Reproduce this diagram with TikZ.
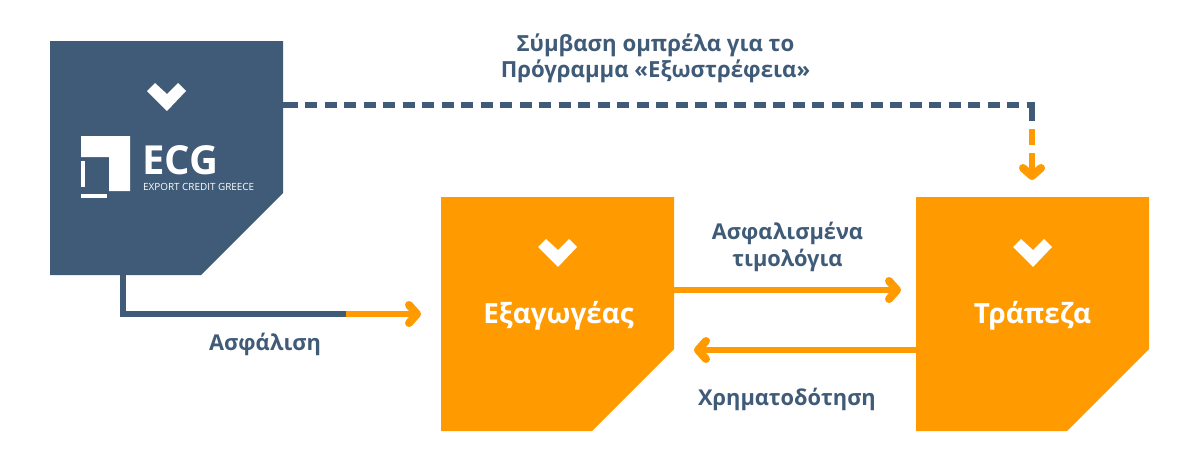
\documentclass[tikz,border=0pt]{standalone}
\usepackage{fontspec}
\setmainfont{Open Sans}
\newfontfamily\logofont{Open Sans}
\usetikzlibrary{arrows.meta}
\definecolor{navy}{HTML}{3F5B78}
\definecolor{amber}{HTML}{FF9B00}
\newcommand{\chev}[2]{\fill[white] (#1-12,#2-14) -- (#1,#2-3) -- (#1+11,#2-14) -- (#1+19,#2-6) -- (#1,#2+14) -- (#1-20,#2-6) -- cycle;}
\newcommand{\panelshape}[2]{\fill[#2] (#1.north west) -- (#1.north east) -- ([yshift=82pt]#1.south east) -- ([xshift=-82pt]#1.south east) -- (#1.south west) -- cycle;}
\tikzset{
  x=1pt,y=-1pt,
  panel/.style={rectangle,inner sep=0pt,outer sep=0pt,minimum width=233pt,minimum height=234pt,font=\fontsize{27.8}{30}\selectfont\bfseries,text=white},
  lab/.style={font=\fontsize{21.8}{26.5}\selectfont\bfseries,text=navy,align=center,inner sep=0pt},
  conn/.style={line width=5.5pt},
  tip/.style={-{Straight Barb[length=8pt,width=18pt,line width=8pt,round=false]}}
}
\begin{document}
\begin{tikzpicture}
\useasboundingbox (0,0) rectangle (1199,466);
\fill[white] (0,0) rectangle (1199,466);
\node[panel] (ecg) at (166.5,158) {};
\node[panel] (exp) at (557.5,314) {};
\node[panel] (bank) at (1032.5,314) {};
\panelshape{ecg}{navy}
\panelshape{exp}{amber}
\panelshape{bank}{amber}
\node[panel,minimum width=0pt,minimum height=0pt] (exptext) at (558.5,316) {Εξαγωγέας};
\node[panel,minimum width=0pt,minimum height=0pt] (banktext) at (1032.5,316) {Τράπεζα};
\chev{167}{97}
\chev{558}{253}
\chev{1033}{253}
% logo
\fill[white] (81,136) -- (130,136) -- (130,191) -- (109,191) -- (109,157) -- (81,157) -- cycle;
\fill[white] (81,161) rectangle (85,187);
\fill[white] (81,194) rectangle (107,198);
\node[inner sep=0pt,anchor=west,text=white,font=\logofont\fontsize{40}{40}\selectfont\bfseries] (ecgtext) at (142,160) {ECG};
\node[inner sep=0pt,anchor=west,text=white,font=\logofont\fontsize{9.9}{10}\selectfont] (ecgsub) at (143,187) {EXPORT CREDIT GREECE};
% labels
\node[lab,font=\fontsize{22.2}{25.5}\selectfont\bfseries] (l1) at (655.5,58.5) {Σύμβαση ομπρέλα για το\\Πρόγραμμα «Εξωστρέφεια»};
\node[lab] (l2) at (787.5,247) {Ασφαλισμένα\\τιμολόγια};
\node[lab] (l3) at (265,344.5) {Ασφάλιση};
\node[lab] (l4) at (787,399) {Χρηματοδότηση};
% connectors
\coordinate (a1) at (346,314);
\coordinate (d1) at (1032,105);
\coordinate (d2) at (1032,121);
\coordinate (s1) at (297,105);
\coordinate (t1) at (1032,180);
\draw[conn,navy] (ecg.south -| 123,0) -- (123,314) -- (a1);
\draw[conn,amber,tip] (a1) -- (421,314);
\draw[conn,navy] (ecg.east |- d1) -- (s1);
\draw[conn,navy,dash pattern=on 12pt off 7.5pt,dash phase=17pt] (ecg.east |- d1) -- (d1);
\draw[conn,navy] (1027,105) -- (d1) -- (d2);
\draw[conn,amber] (1032,129) -- (1032,145);
\draw[conn,amber,tip] (1032,153) -- (t1);
\draw[conn,amber,tip] (exp.east |- 0,290) -- (901,290);
\draw[conn,amber,tip] (bank.west |- 0,350) -- (694,350);
\end{tikzpicture}
\end{document}
